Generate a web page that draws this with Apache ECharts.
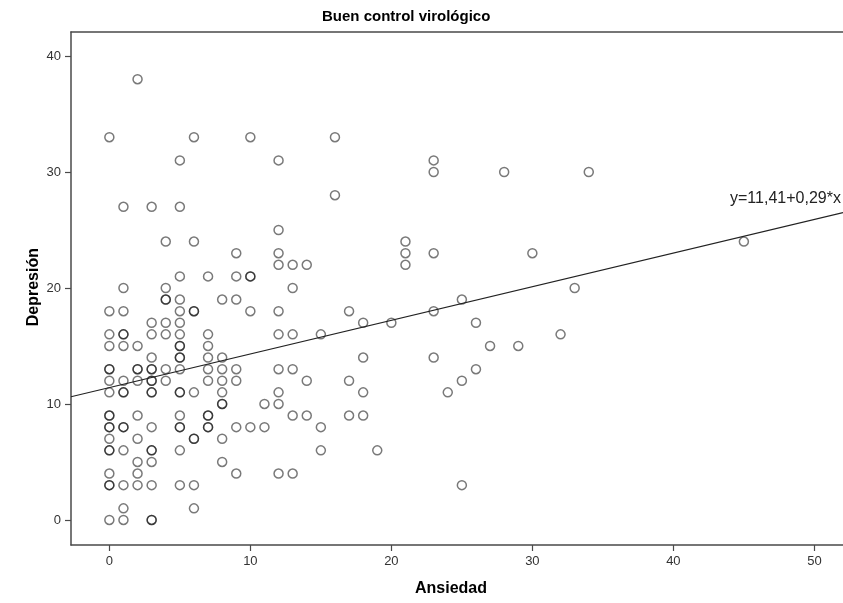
<!DOCTYPE html>
<html>
<head>
<meta charset="utf-8">
<script src="https://cdn.jsdelivr.net/npm/echarts@6/dist/echarts.min.js"></script>
<style>
html,body{margin:0;padding:0;background:#fff;}
#chart{width:843px;height:603px;}
</style>
</head>
<body>
<div id="chart"></div>
<script>
// Data (Ansiedad = x, Depresión = y); repeated pairs are overlapping points
const ansiedad = [
  2,0,6,10,16,5,12,16,
  1,3,5,12,4,6,9,12,12,13,14,
  5,7,9,10,10,1,4,13,4,4,5,8,9,
  0,1,5,6,6,10,12,17,3,4,5,
  0,1,1,3,4,5,7,12,13,15,
  0,1,2,5,5,7,3,5,5,7,8,18,
  0,0,2,2,3,3,4,5,7,8,9,12,13,
  0,1,2,3,3,4,7,8,9,14,17,
  0,1,1,3,3,5,5,6,8,12,18,
  8,8,11,12,
  0,0,2,5,7,7,13,14,17,18,
  0,0,1,1,3,5,5,7,7,9,10,11,15,
  0,2,6,6,8,
  0,0,1,3,3,5,15,19,
  2,3,8,
  0,2,9,12,13,
  0,0,1,2,3,5,6,25,
  1,6,
  0,1,3,3,
  23,23,28,34,21,21,21,23,30,33,25,23,18,20,26,32,27,29,23,26,25,24,45
];
const depresion = [
  38,33,33,33,33,31,31,28,
  27,27,27,25,24,24,23,23,22,22,22,
  21,21,21,21,21,20,20,20,19,19,19,19,19,
  18,18,18,18,18,18,18,18,17,17,17,
  16,16,16,16,16,16,16,16,16,16,
  15,15,15,15,15,15,14,14,14,14,14,14,
  13,13,13,13,13,13,13,13,13,13,13,13,13,
  12,12,12,12,12,12,12,12,12,12,12,
  11,11,11,11,11,11,11,11,11,11,11,
  10,10,10,10,
  9,9,9,9,9,9,9,9,9,9,
  8,8,8,8,8,8,8,8,8,8,8,8,8,
  7,7,7,7,7,
  6,6,6,6,6,6,6,6,
  5,5,5,
  4,4,4,4,4,
  3,3,3,3,3,3,3,3,
  1,1,
  0,0,0,0,
  31,30,30,30,24,23,22,23,23,20,19,18,17,17,17,16,15,15,14,13,12,11,24
];
const xTicks = [0, 10, 20, 30, 40, 50];
const yTicks = [0, 10, 20, 30, 40];
const fitIntercept = 11.41;
const fitSlope = 0.29;
const fitLabel = 'y=11,41+0,29*x';
const chartTitle = 'Buen control virológico';
const xName = 'Ansiedad';
const yName = 'Depresión';

const xMin = -2.72, xMax = 52.03, yMin = -2.16, yMax = 42.07;
const font = '"Liberation Sans", Arial, sans-serif';
const axisColor = '#4a4a4a';

const points = ansiedad.map((x, i) => [x, depresion[i]]);
const fitLine = [[xMin, fitIntercept + fitSlope * xMin], [xMax, fitIntercept + fitSlope * xMax]];

const chart = echarts.init(document.getElementById('chart'), null, {renderer: 'canvas'});
chart.setOption({
  animation: false,
  backgroundColor: '#fff',
  grid: {left: 71, right: 0, top: 32, bottom: 58, show: false},
  xAxis: [{
    type: 'value', min: xMin, max: xMax, position: 'bottom',
    axisLine: {show: true, onZero: false, lineStyle: {color: axisColor, width: 1.5}},
    axisTick: {show: true, customValues: xTicks, length: 6, lineStyle: {color: axisColor, width: 1.2}},
    axisLabel: {customValues: xTicks, color: '#333', fontSize: 13, margin: 10, fontFamily: font},
    splitLine: {show: false}
  }, {
    type: 'value', min: xMin, max: xMax, position: 'top',
    axisLine: {show: true, onZero: false, lineStyle: {color: axisColor, width: 1.5}},
    axisTick: {show: false}, axisLabel: {show: false}, splitLine: {show: false}
  }],
  yAxis: {
    type: 'value', min: yMin, max: yMax,
    axisLine: {show: true, onZero: false, lineStyle: {color: axisColor, width: 1.5}},
    axisTick: {show: true, customValues: yTicks, length: 6, lineStyle: {color: axisColor, width: 1.2}},
    axisLabel: {customValues: yTicks, color: '#333', fontSize: 13, margin: 10, fontFamily: font},
    splitLine: {show: false}
  },
  series: [
    {
      type: 'scatter', data: points, symbol: 'circle', symbolSize: 9,
      itemStyle: {color: 'rgba(255,255,255,0)', borderColor: 'rgba(0,0,0,0.66)', borderWidth: 1.5},
      emphasis: {disabled: true}, silent: true, z: 3
    },
    {
      type: 'line', data: fitLine, symbol: 'none', clip: true,
      lineStyle: {color: '#222', width: 1.1}, silent: true, z: 4
    }
  ],
  graphic: [
    {type: 'text', left: 322, top: 9, style: {text: chartTitle, font: 'bold 15px ' + font, fill: '#000'}},
    {type: 'text', left: 730, top: 191, style: {text: fitLabel, font: '16px ' + font, fill: '#222'}},
    {type: 'text', left: 415, top: 581, style: {text: xName, font: 'bold 16px ' + font, fill: '#000'}},
    {type: 'text', left: 26, top: 248, rotation: Math.PI / 2, originX: 0, originY: 0,
     style: {text: yName, font: 'bold 16px ' + font, fill: '#000', x: 0, y: 0}}
  ]
});
</script>
</body>
</html>
